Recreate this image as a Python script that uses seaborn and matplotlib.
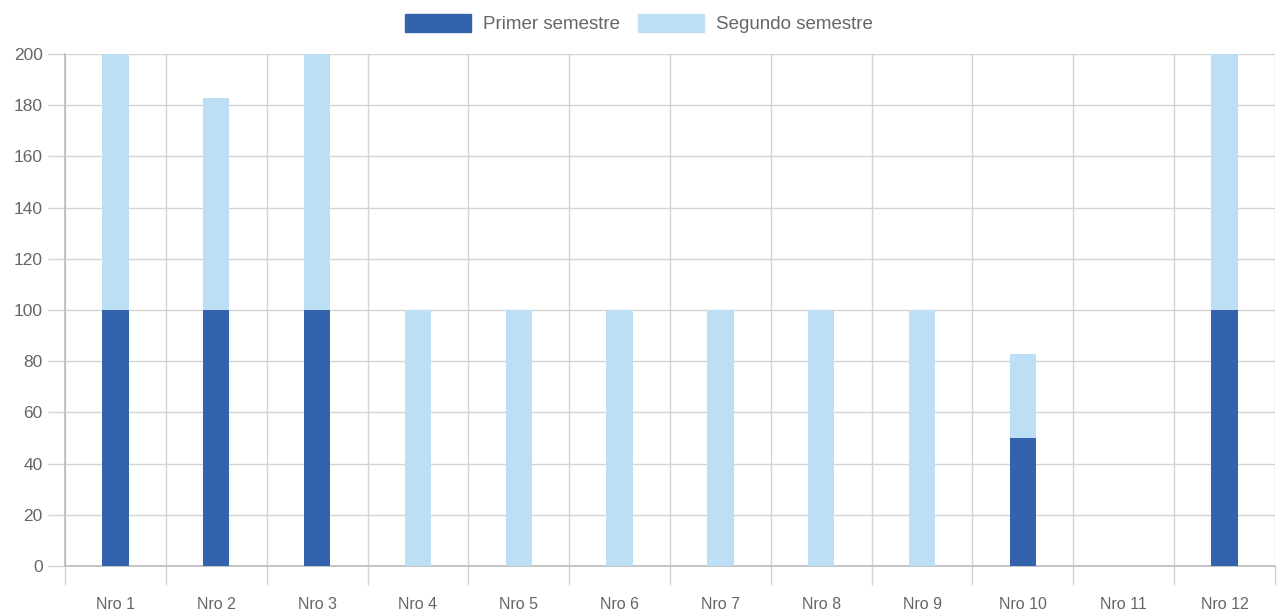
import matplotlib
matplotlib.use("Agg")
import matplotlib.pyplot as plt
import seaborn as sns
import numpy as np
import pandas as pd
from matplotlib.patches import Patch
from matplotlib.ticker import MultipleLocator, FixedLocator

categories = ["Nro 1", "Nro 2", "Nro 3", "Nro 4", "Nro 5", "Nro 6",
              "Nro 7", "Nro 8", "Nro 9", "Nro 10", "Nro 11", "Nro 12"]
primer = [100, 100, 100, 0, 0, 0, 0, 0, 0, 50, 0, 100]
segundo = [100, 83, 100, 100, 100, 100, 100, 100, 100, 33, 0, 100]
series_names = ["Primer semestre", "Segundo semestre"]

dark = "#3463AD"
light = "#BDDFF6"
grey_text = "#666666"
grid_col = "#d4d4d4"

sns.set_theme(style="white")
plt.rcParams['font.family'] = ['Liberation Sans', 'DejaVu Sans']

df = pd.DataFrame({"cat": categories, "primer": primer, "segundo": segundo})
df["total"] = df["primer"] + df["segundo"]

fig = plt.figure(figsize=(12.78, 6.12), dpi=100)
ax = fig.add_axes([65/1278, 1 - 566/612, (1275-65)/1278, (566-54)/612])

sns.barplot(data=df, x="cat", y="total", color=light, saturation=1, width=0.26,
            linewidth=0, ax=ax, zorder=3)
sns.barplot(data=df, x="cat", y="primer", color=dark, saturation=1, width=0.26,
            linewidth=0, ax=ax, zorder=4)

ax.set_xlim(-0.5, len(categories) - 0.5)
ax.set_ylim(0, 200)
ax.yaxis.set_major_locator(MultipleLocator(20))
ax.set_xlabel("")
ax.set_ylabel("")

# grid
ax.grid(axis="y", color=grid_col, linewidth=1, zorder=0)
ax.xaxis.set_minor_locator(FixedLocator(np.arange(-0.5, len(categories), 1.0)))
ax.grid(axis="x", which="minor", color=grid_col, linewidth=1, zorder=0)
ax.grid(axis="x", which="major", visible=False)
ax.set_axisbelow(True)

for s in ["top", "right"]:
    ax.spines[s].set_visible(False)
ax.spines["left"].set_color("#bdbdbd")
ax.spines["bottom"].set_color("#bdbdbd")

ax.tick_params(axis="x", which="major", length=0, pad=22, labelsize=11.5, labelcolor=grey_text)
ax.tick_params(axis="x", which="minor", length=14, color=grid_col, width=1, bottom=True)
ax.tick_params(axis="y", length=12, color=grid_col, width=1, pad=4, labelsize=12.5,
               labelcolor=grey_text, left=True)

handles = [Patch(facecolor=dark, edgecolor=dark), Patch(facecolor=light, edgecolor=light)]
fig.legend(handles, series_names, loc="upper center", bbox_to_anchor=(0.5, 1.005), ncol=2,
           frameon=False, fontsize=13.5, handlelength=3.5, handleheight=1.15,
           handletextpad=0.65, columnspacing=1.0, labelcolor=grey_text)

fig.savefig("out.png", dpi=100, facecolor="white")
